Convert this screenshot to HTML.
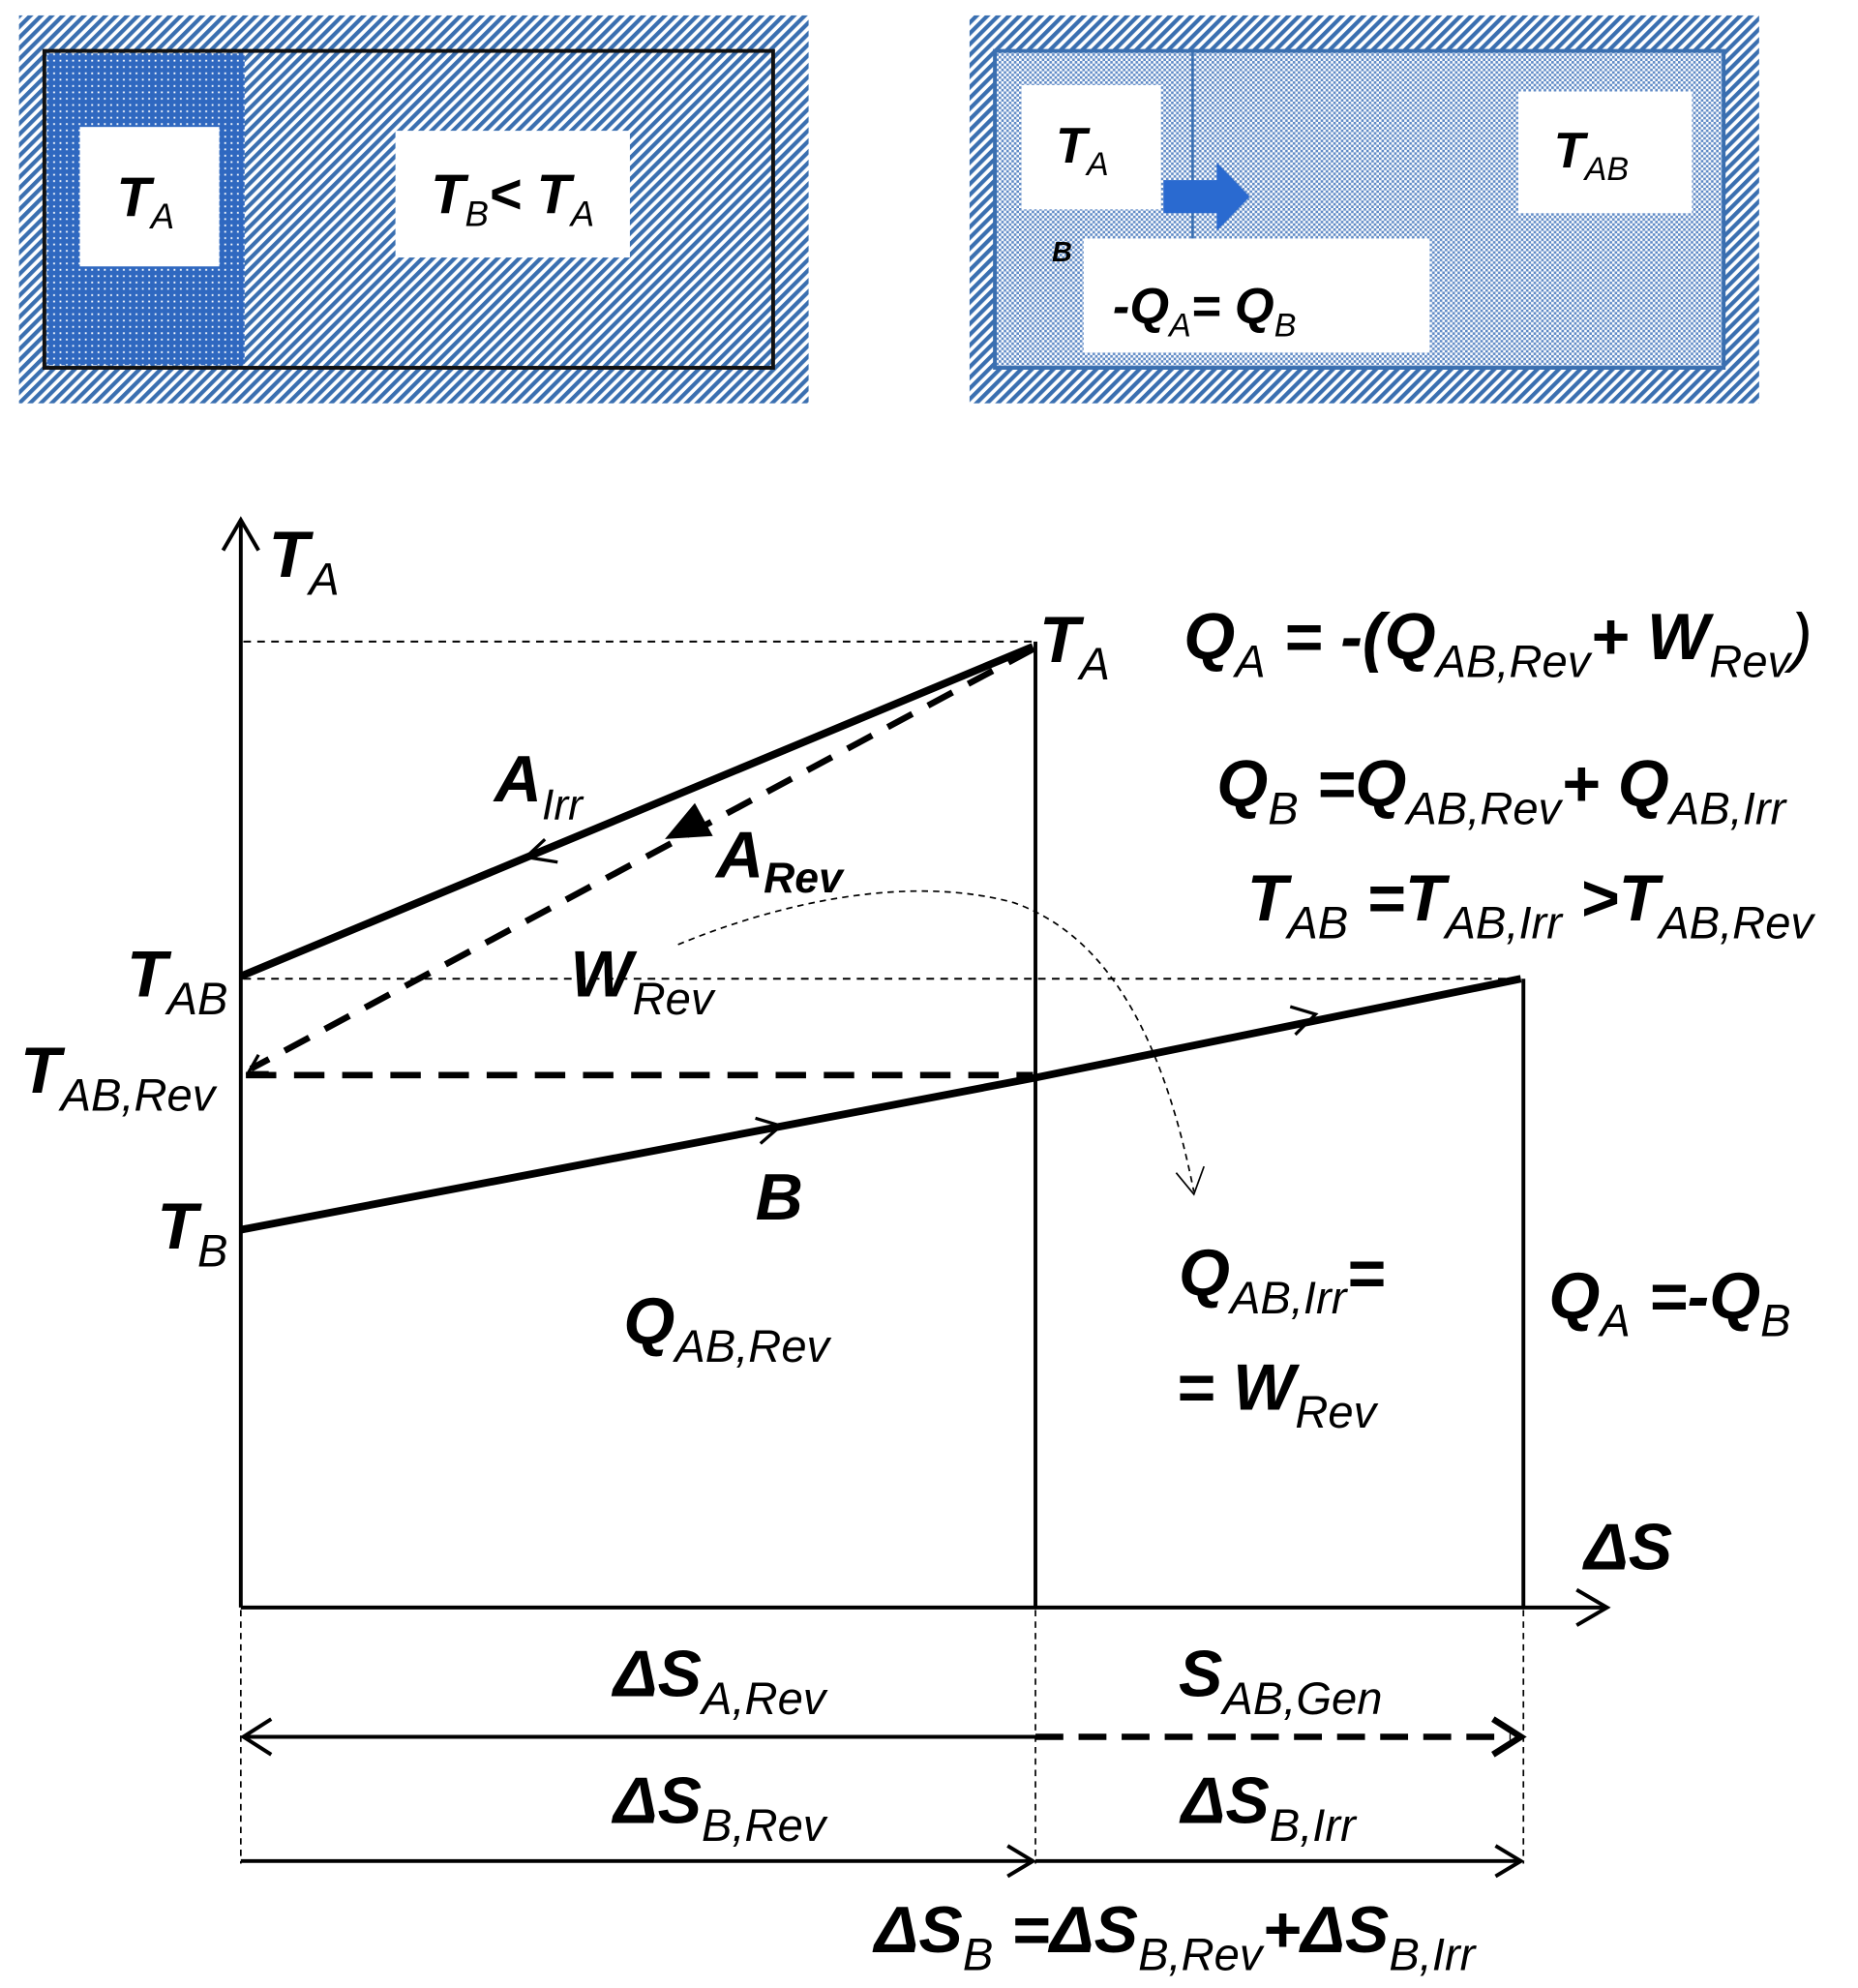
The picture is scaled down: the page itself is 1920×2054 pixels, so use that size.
<!DOCTYPE html>
<html><head><meta charset="utf-8"><style>
html,body{margin:0;padding:0;background:#fff;}
svg{display:block;}
text{font-family:"Liberation Sans",sans-serif;font-style:italic;fill:#000;}
.b{font-weight:bold;}
.s{font-weight:normal;}
</style></head><body>
<svg width="1920" height="2054" viewBox="0 0 1466 1568" xmlns="http://www.w3.org/2000/svg">
<defs>
<pattern id="hatch" width="6" height="6" patternUnits="userSpaceOnUse" patternTransform="rotate(45)">
<rect width="6" height="6" fill="#fff"/><rect width="3.2" height="6" fill="#3a6fb0"/>
</pattern>
<pattern id="dots" width="5" height="5" patternUnits="userSpaceOnUse">
<rect width="5" height="5" fill="#2f68c0"/><rect x="2" y="2" width="1.4" height="1.4" fill="#fff"/>
</pattern>
<pattern id="lt" width="4" height="4" patternUnits="userSpaceOnUse">
<rect width="4" height="4" fill="#fff"/><rect width="2" height="2" fill="#5f8ac6"/><rect x="2" y="2" width="2" height="2" fill="#5f8ac6"/>
</pattern>
</defs>
<!-- top left -->
<rect x="15" y="12" width="623" height="306" fill="url(#hatch)"/>
<rect x="35" y="40" width="575" height="250" fill="url(#hatch)" stroke="#111" stroke-width="3"/>
<rect x="37" y="42" width="156" height="246" fill="url(#dots)"/>
<rect x="63" y="100" width="110" height="110" fill="#fff"/>
<rect x="312" y="103" width="185" height="100" fill="#fff"/>
<text x="92" y="170" class="b" font-size="44">T<tspan class="s" font-size="28" dy="10">A</tspan></text>
<text x="340" y="168" class="b" font-size="44">T<tspan class="s" font-size="28" dy="10">B</tspan><tspan dy="-10">&lt; T</tspan><tspan class="s" font-size="28" dy="10">A</tspan></text>
<!-- top right -->
<rect x="765" y="12" width="623" height="306" fill="url(#hatch)"/>
<rect x="785" y="40" width="575" height="250" fill="url(#lt)" stroke="#3a6fb0" stroke-width="3"/>
<line x1="941" y1="40" x2="941" y2="272" stroke="#3a6fb0" stroke-width="2"/>
<rect x="806" y="67" width="110" height="98" fill="#fff"/>
<rect x="1198" y="72" width="137" height="96" fill="#fff"/>
<rect x="855" y="188" width="273" height="90" fill="#fff"/>
<path d="M918,142 L960,142 L960,128 L986,155 L960,182 L960,168 L918,168 Z" fill="#2a6ad0"/>
<text x="833" y="128" class="b" font-size="40">T<tspan class="s" font-size="26" dy="10">A</tspan></text>
<text x="1226" y="132" class="b" font-size="40">T<tspan class="s" font-size="26" dy="10">AB</tspan></text>
<text x="830" y="206" class="b" font-size="22">B</text>
<text x="878" y="255" class="b" font-size="40">-Q<tspan class="s" font-size="26" dy="10">A</tspan><tspan dy="-10">= Q</tspan><tspan class="s" font-size="26" dy="10">B</tspan></text>
<!-- diagram -->
<g stroke="#000" fill="none">
<line x1="190" y1="1268" x2="190" y2="412" stroke-width="3"/>
<path d="M176,434 L190,410 L204,434" stroke-width="3"/>
<line x1="190" y1="1268" x2="1266" y2="1268" stroke-width="3"/>
<path d="M1244,1254 L1268,1268 L1244,1282" stroke-width="3"/>
<line x1="192" y1="506" x2="815" y2="506" stroke-width="1.5" stroke-dasharray="6,5"/>
<line x1="192" y1="772" x2="1200" y2="772" stroke-width="1.5" stroke-dasharray="6,5"/>
<line x1="817" y1="506" x2="817" y2="1268" stroke-width="3"/>
<line x1="1202" y1="772" x2="1202" y2="1268" stroke-width="3"/>
<line x1="190" y1="770" x2="815" y2="510" stroke-width="6"/>
<line x1="815" y1="512" x2="198" y2="843" stroke-width="5" stroke-dasharray="22,14"/>
<line x1="194" y1="848" x2="815" y2="848" stroke-width="5" stroke-dasharray="24,14"/>
<path d="M190,970 L817,850 L1200,772" stroke-width="6"/>
<path d="M535,745 C620,710 720,690 800,712 C880,740 920,830 942,940" stroke-width="1.3" stroke-dasharray="5,4"/>
<path d="M928,925 L942,942 L950,920" stroke-width="1.3"/>
<path d="M430,662 L415,676 L440,680" stroke-width="2.5"/>
<path d="M548,636 L528,660 L560,658 Z" stroke-width="3" fill="#000"/>
<path d="M204,832 L196,846 L212,846" stroke-width="2.5"/>
<path d="M596,882 L616,888 L600,902" stroke-width="2.5"/>
<path d="M1018,794 L1038,800 L1022,816" stroke-width="2.5"/>
<g stroke-width="1.3" stroke-dasharray="5,4">
<line x1="190" y1="1270" x2="190" y2="1470"/>
<line x1="817" y1="1270" x2="817" y2="1470"/>
<line x1="1202" y1="1270" x2="1202" y2="1470"/>
</g>
<line x1="192" y1="1370" x2="817" y2="1370" stroke-width="3"/>
<path d="M214,1356 L192,1370 L214,1384" stroke-width="3"/>
<line x1="817" y1="1370" x2="1192" y2="1370" stroke-width="5" stroke-dasharray="22,12"/>
<path d="M1178,1356 L1200,1370 L1178,1384" stroke-width="5"/>
<line x1="190" y1="1468" x2="815" y2="1468" stroke-width="3"/>
<path d="M795,1456 L815,1468 L795,1480" stroke-width="3"/>
<line x1="817" y1="1468" x2="1200" y2="1468" stroke-width="3"/>
<path d="M1180,1456 L1200,1468 L1180,1480" stroke-width="3"/>
</g>
<g class="b" font-size="52">
<text x="212" y="455" class="b">T<tspan class="s" font-size="36" dy="14">A</tspan></text>
<text x="820" y="522" class="b">T<tspan class="s" font-size="36" dy="14">A</tspan></text>
<text x="390" y="632" class="b">A<tspan class="s" font-size="34" dy="14">Irr</tspan></text>
<text x="565" y="692" class="b">A<tspan font-size="34" dy="12">Rev</tspan></text>
<text x="450" y="786" class="b">W<tspan class="s" font-size="36" dy="14">Rev</tspan></text>
<text x="100" y="786" class="b">T<tspan class="s" font-size="36" dy="14">AB</tspan></text>
<text x="16" y="862" class="b">T<tspan class="s" font-size="36" dy="14">AB,Rev</tspan></text>
<text x="124" y="985" class="b">T<tspan class="s" font-size="36" dy="14">B</tspan></text>
<text x="596" y="962" class="b">B</text>
<text x="492" y="1060" class="b">Q<tspan class="s" font-size="36" dy="14">AB,Rev</tspan></text>
<text x="930" y="1022" class="b">Q<tspan class="s" font-size="36" dy="14">AB,Irr</tspan><tspan dy="-14">=</tspan></text>
<text x="928" y="1112" class="b">= W<tspan class="s" font-size="36" dy="14">Rev</tspan></text>
<text x="1222" y="1040" class="b">Q<tspan class="s" font-size="36" dy="14">A</tspan><tspan dy="-14"> =-Q</tspan><tspan class="s" font-size="36" dy="14">B</tspan></text>
<text x="1250" y="1238" class="b">ΔS</text>
<text x="934" y="520" class="b">Q<tspan class="s" font-size="36" dy="14">A</tspan><tspan dy="-14"> = -(Q</tspan><tspan class="s" font-size="36" dy="14">AB,Rev</tspan><tspan dy="-14">+ W</tspan><tspan class="s" font-size="36" dy="14">Rev</tspan><tspan class="s" dy="-14">)</tspan></text>
<text x="960" y="636" class="b">Q<tspan class="s" font-size="36" dy="14">B</tspan><tspan dy="-14"> =Q</tspan><tspan class="s" font-size="36" dy="14">AB,Rev</tspan><tspan dy="-14">+ Q</tspan><tspan class="s" font-size="36" dy="14">AB,Irr</tspan></text>
<text x="984" y="726" class="b">T<tspan class="s" font-size="36" dy="14">AB</tspan><tspan dy="-14"> =T</tspan><tspan class="s" font-size="36" dy="14">AB,Irr</tspan><tspan dy="-14"> &gt;T</tspan><tspan class="s" font-size="36" dy="14">AB,Rev</tspan></text>
<text x="484" y="1338" class="b">ΔS<tspan class="s" font-size="36" dy="14">A,Rev</tspan></text>
<text x="930" y="1338" class="b">S<tspan class="s" font-size="36" dy="14">AB,Gen</tspan></text>
<text x="484" y="1438" class="b">ΔS<tspan class="s" font-size="36" dy="14">B,Rev</tspan></text>
<text x="932" y="1438" class="b">ΔS<tspan class="s" font-size="36" dy="14">B,Irr</tspan></text>
<text x="690" y="1540" class="b">ΔS<tspan class="s" font-size="36" dy="14">B</tspan><tspan dy="-14"> =ΔS</tspan><tspan class="s" font-size="36" dy="14">B,Rev</tspan><tspan dy="-14">+ΔS</tspan><tspan class="s" font-size="36" dy="14">B,Irr</tspan></text>
</g>
</svg>
</body></html>
